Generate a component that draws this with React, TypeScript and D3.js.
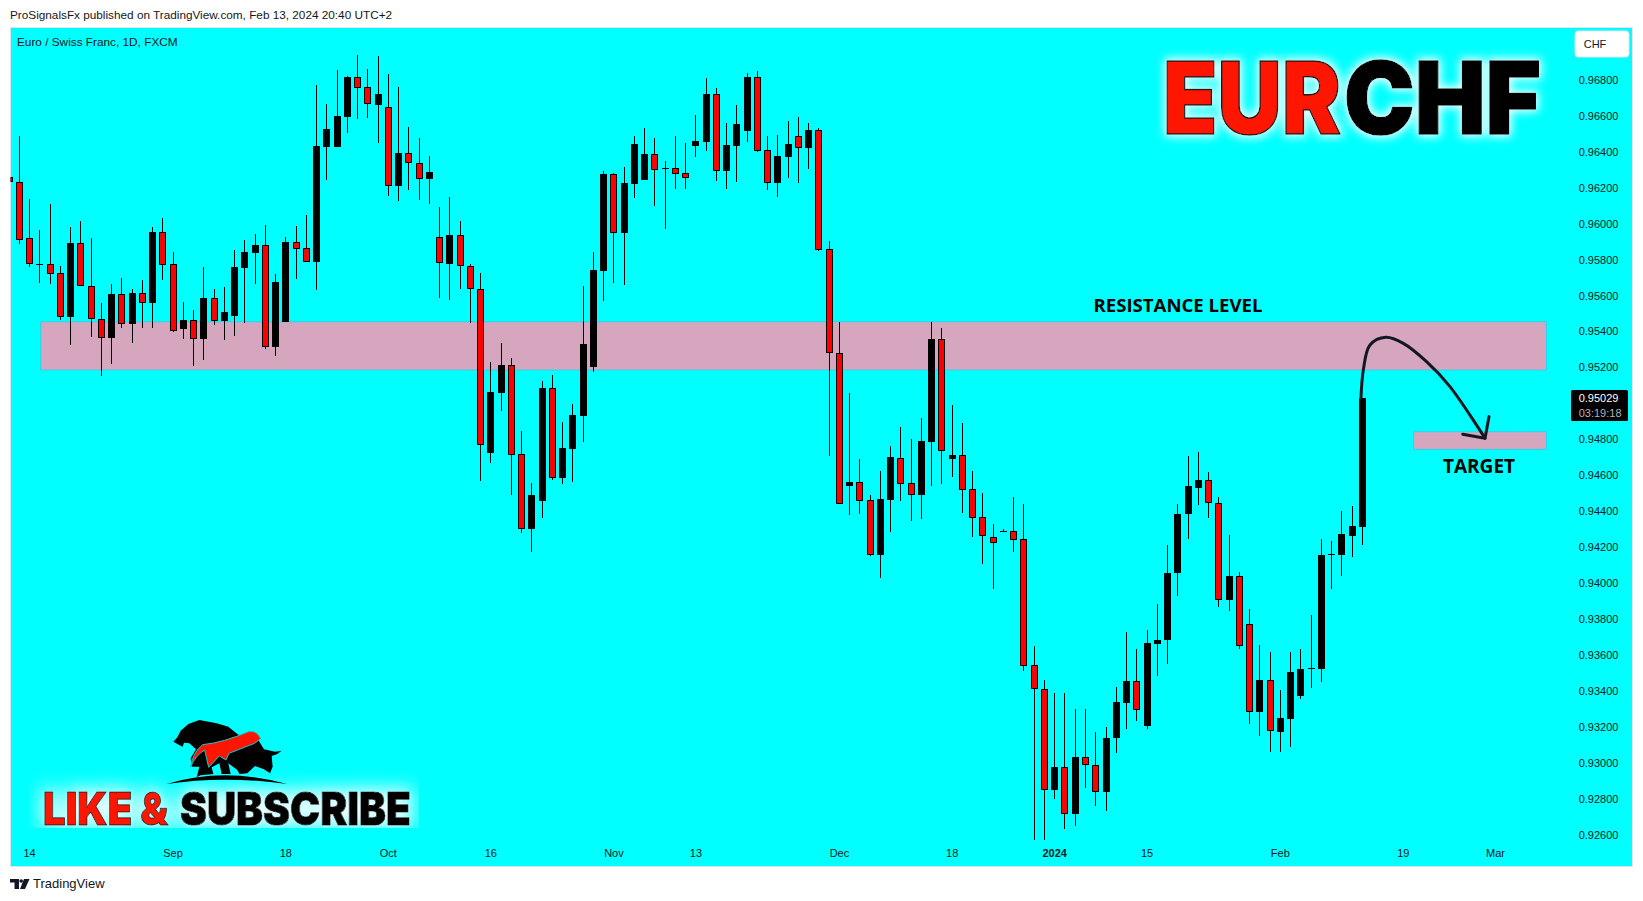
import * as d3 from "d3";

const width = 1643;
const height = 901;

// prices are in 1e-5 CHF, first entry is the bar cut off by the left edge
const opens = [
  96259, 96231, 95916, 95771, 95771, 95721, 95480, 95888, 95649, 95470,
  95363, 95604, 95441, 95610, 95558, 95949, 95771, 95413, 95459, 95357,
  95582, 95457, 95485, 95752, 95836, 95877, 95313, 95452, 95893, 95860,
  95786, 96426, 96426, 96593, 96812, 96756, 96660, 96645, 96209, 96389,
  96333, 96248, 95921, 95775, 95932, 95760, 95632, 94723, 95057, 95209,
  94714, 94300, 94456, 95081, 94584, 94745, 94929, 95202, 95736, 96272,
  95947, 96220, 96242, 96383, 96305, 96305, 96278, 96432, 96454, 96717,
  96292, 96432, 96515, 96812, 96406, 96226, 96370, 96484, 96420, 96517,
  95855, 95280, 94540, 94558, 94458, 94156, 94462, 94692, 94552, 94489,
  94784, 95354, 94690, 94708, 94519, 94363, 94257, 94285, 94285, 94241,
  93541, 93406, 92846, 92976, 92711, 93032, 92986, 92834, 93136, 93332,
  93452, 93204, 93661, 93679, 94053, 94384, 94529, 94570, 94442, 93906,
  94036, 93768, 93282, 93457, 93171, 93243, 93371, 93524, 93522, 94152,
  94154, 94262, 94312,
];
const highs = [
  96259, 96485, 96133, 95962, 96110, 95765, 95977, 96012, 95918, 95556,
  95662, 95695, 95632, 95684, 95977, 96029, 95838, 95561, 95517, 95756,
  95632, 95645, 95851, 95906, 95940, 95990, 95717, 95921, 95984, 96046,
  96769, 96663, 96852, 96819, 96936, 96858, 96930, 96830, 96756, 96535,
  96472, 96374, 96090, 96146, 96012, 95773, 95721, 95226, 95332, 95248,
  94842, 94552, 95122, 95154, 94892, 94992, 95651, 95840, 96289, 96280,
  96313, 96485, 96530, 96474, 96344, 96485, 96446, 96602, 96808, 96753,
  96556, 96658, 96836, 96847, 96485, 96491, 96569, 96591, 96556, 96528,
  95901, 95450, 95055, 94686, 94488, 94621, 94760, 94864, 94799, 94914,
  95450, 95417, 94988, 94886, 94621, 94497, 94326, 94299, 94476, 94438,
  93649, 93460, 93386, 93386, 93296, 93296, 93168, 93196, 93420, 93727,
  93631, 93739, 93879, 94209, 94436, 94706, 94726, 94616, 94475, 94264,
  94058, 93852, 93653, 93613, 93403, 93613, 93629, 93819, 94241, 94230,
  94397, 94425, 95029,
];
const lows = [
  96231, 95884, 95758, 95669, 95662, 95461, 95322, 95649, 95368, 95150,
  95216, 95417, 95335, 95417, 95417, 95684, 95394, 95355, 95205, 95239,
  95433, 95350, 95372, 95446, 95662, 95302, 95261, 95452, 95689, 95786,
  95630, 96240, 96426, 96504, 96582, 96585, 96448, 96153, 96123, 96185,
  96129, 96109, 95585, 95574, 95634, 95446, 94565, 94668, 94955, 94488,
  94276, 94172, 94361, 94571, 94551, 94560, 94784, 95174, 95569, 95669,
  95656, 96140, 96242, 96096, 95968, 96190, 96190, 96369, 96402, 96235,
  96190, 96229, 96452, 96396, 96185, 96146, 96252, 96224, 96302, 95845,
  94705, 94439, 94376, 94382, 94148, 94025, 94282, 94454, 94343, 94354,
  94538, 94549, 94588, 94387, 94254, 94104, 93965, 94281, 94169, 93506,
  92567, 92567, 92794, 92627, 92645, 92860, 92756, 92728, 93050, 93186,
  93230, 93186, 93482, 93549, 93925, 94245, 94434, 94362, 93865, 93844,
  93633, 93216, 93149, 93060, 93060, 93088, 93353, 93416, 93449, 93967,
  94039, 94145, 94210,
];
const closes = [
  96231, 95905, 95771, 95771, 95719, 95480, 95888, 95649, 95469, 95363,
  95606, 95441, 95610, 95558, 95949, 95769, 95402, 95459, 95357, 95582,
  95457, 95509, 95754, 95838, 95877, 95313, 95671, 95893, 95858, 95786,
  96430, 96522, 96595, 96812, 96754, 96661, 96717, 96209, 96389, 96333,
  96248, 96283, 95777, 95932, 95760, 95632, 94768, 95059, 95209, 94712,
  94300, 94486, 95081, 94584, 94747, 94931, 95328, 95740, 96272, 95947,
  96222, 96439, 96383, 96298, 96305, 96276, 96250, 96456, 96717, 96292,
  96433, 96550, 96812, 96404, 96226, 96372, 96439, 96420, 96517, 95853,
  95280, 94439, 94558, 94456, 94156, 94463, 94697, 94551, 94489, 94786,
  95354, 94734, 94708, 94517, 94361, 94261, 94221, 94285, 94239, 93539,
  93408, 92846, 92976, 92711, 93032, 92986, 92834, 93138, 93334, 93452,
  93290, 93663, 93681, 94055, 94384, 94536, 94570, 94442, 93906, 94036,
  93650, 93282, 93457, 93173, 93245, 93501, 93518, 93524, 94152, 94158,
  94269, 94314, 95029,
];

// 0.95000 sits under the last price tag, so it is left out
const priceTicks = d3.range(92600, 96801, 200).filter((p) => p !== 95000);
const timeLabels = ["14", "Sep", "18", "Oct", "16", "Nov", "13", "Dec", "18", "2024", "15", "Feb", "19", "Mar"];
const timeBars = [1, 15, 26, 36, 46, 58, 66, 80, 91, 101, 110, 123, 135, 144];

// drawn zones, [first bar, last bar, upper price, lower price]
const resistanceZone = [2.09, 148.95, 95452, 95183];
const targetZone = [136, 148.95, 94840, 94742];
const arrowBars = [130.87, 131.1, 131.75, 133.3, 135, 137.27, 139.55, 142.97];
const arrowPrices = [95026, 95184, 95323, 95366, 95332, 95230, 95091, 94804];
const arrowHeadBars = [143.36, 142.97, 140.8];
const arrowHeadPrices = [94924, 94804, 94826];

const lastPrice = 95029;

const font = "'Liberation Sans', Arial, sans-serif";
const ink = "#131722";

const x = d3.scaleLinear([0, 131], [19.3, 1362.3]);
const y = d3.scaleLinear([96800, 93000], [79.5, 762.4]);

const crisp = (v: number) => Math.floor(v) + 0.5;

function Candles() {
  return (
    <g shapeRendering="crispEdges">
      {opens.map((o, k) => {
        const c = closes[k];
        const cx = crisp(x(k - 1));
        const top = Math.round(y(Math.max(o, c)));
        const bottom = Math.round(y(Math.min(o, c)));
        const h = Math.max(bottom - top, 1);
        return (
          <g key={k}>
            <line x1={cx} x2={cx} y1={Math.round(y(highs[k]))} y2={Math.round(y(lows[k]))} stroke="#000" />
            <rect x={cx - 3.5} y={top} width={7} height={h} fill="#000" />
            {c < o && h > 2 && <rect x={cx - 2.5} y={top + 1} width={5} height={h - 2} fill="#ff0000" />}
          </g>
        );
      })}
    </g>
  );
}

function Zone({ zone }: { zone: number[] }) {
  const [a, b, hi, lo] = zone;
  return (
    <rect
      x={x(a)}
      y={y(hi)}
      width={x(b) - x(a)}
      height={y(lo) - y(hi)}
      fill="#d5a6bd"
      stroke="#2fd0ee"
      strokeWidth={1}
    />
  );
}

function Arrow() {
  const curve = d3
    .line<number>((d) => x(d), (_, i) => y(arrowPrices[i]))
    .curve(d3.curveCatmullRom);
  const head = d3.line<number>((d) => x(d), (_, i) => y(arrowHeadPrices[i]));
  return (
    <g fill="none" stroke="#131722" strokeWidth={3} strokeLinecap="round" strokeLinejoin="round">
      <path d={curve(arrowBars)!} />
      <path d={head(arrowHeadBars)!} />
    </g>
  );
}

function BullBear() {
  // logo, traced by hand
  return (
    <g transform="translate(160,710) scale(0.3333)">
      <path
        fill="#000"
        d="M40 95 L52 82 L62 62 L85 42 L118 30 L170 40 L205 50 L235 74 L290 82 L312 118 L345 125 L365 122 L352 132 L335 138 L338 170 L330 190 L312 178 L285 168 L262 190 L238 192 L232 180 L205 160 L212 192 L185 192 L178 160 L155 172 L160 192 L122 196 L110 202 L118 170 L95 170 L92 145 L108 118 L88 100 L72 98 L68 110 L52 102 Z"
      />
      <path
        fill="#ff1500"
        stroke="#19c6d0"
        strokeWidth={3}
        d="M92 170 Q98 128 128 104 Q190 98 268 64 Q292 62 302 86 L284 100 L207 130 L198 150 L178 138 L146 172 L134 120 Q108 135 92 170 Z"
      />
      <path fill="#000" d="M20 222 Q190 170 382 222 Q190 196 20 222 Z" />
    </g>
  );
}

export default function App() {
  return (
    <svg
      width={width}
      height={height}
      style={{ position: "absolute", left: 0, top: 0, background: "#fff" }}
      fontFamily={font}
    >
      <defs>
        <clipPath id="pane">
          <rect x={10.5} y={27.5} width={1622} height={839} />
        </clipPath>
        <clipPath id="subscribeBox">
          <rect x={29} y={760} width={390} height={68} />
        </clipPath>
        <filter id="glow" x="-15%" y="-40%" width="130%" height="180%">
          <feMorphology in="SourceAlpha" operator="dilate" radius={2} result="fat" />
          <feGaussianBlur in="fat" stdDeviation={5} result="soft" />
          <feFlood floodColor="#ffffff" floodOpacity={0.95} />
          <feComposite in2="soft" operator="in" result="halo" />
          <feMerge>
            <feMergeNode in="halo" />
            <feMergeNode in="SourceGraphic" />
          </feMerge>
        </filter>
        <filter id="glowWide" x="-10%" y="-60%" width="120%" height="220%">
          <feMorphology in="SourceAlpha" operator="dilate" radius={3} result="fat" />
          <feGaussianBlur in="fat" stdDeviation={9} result="soft" />
          <feFlood floodColor="#ffffff" floodOpacity={0.9} />
          <feComposite in2="soft" operator="in" result="halo" />
          <feMerge>
            <feMergeNode in="halo" />
            <feMergeNode in="SourceGraphic" />
          </feMerge>
        </filter>
      </defs>

      <text x={10} y={19} fontSize={11.77} fill={ink}>
        ProSignalsFx published on TradingView.com, Feb 13, 2024 20:40 UTC+2
      </text>

      <rect x={10.5} y={27.5} width={1622} height={839} fill="#00ffff" stroke="#e0e3eb" />

      <g clipPath="url(#pane)">
        <Zone zone={resistanceZone} />
        <Zone zone={targetZone} />
        <Candles />
        <Arrow />
      </g>

      <text x={17} y={46} fontSize={11.8} fill={ink}>
        Euro / Swiss Franc, 1D, FXCM
      </text>

      <text x={1178} y={311.5} textAnchor="middle" fontSize={18.6} fontWeight={700} fontFamily="'Open Sans'" fill="#000">
        RESISTANCE LEVEL
      </text>
      <text x={1479} y={472.5} textAnchor="middle" fontSize={19} fontWeight={700} fontFamily="'Open Sans'" fill="#000">
        TARGET
      </text>

      <g filter="url(#glow)" fontFamily="Inter" fontWeight={900} fontSize={100} strokeLinejoin="round">
        <text transform="translate(1163,134) scale(0.89,1)" fill="#ff1500" stroke="#1a1a1a" strokeWidth={1.5}>
          EUR
        </text>
        <text transform="translate(1344,134) scale(0.945,1)" fill="#000" stroke="#000" strokeWidth={1.5}>
          CHF
        </text>
      </g>

      <g clipPath="url(#subscribeBox)">
        <g filter="url(#glowWide)" fontFamily="Inter" fontWeight={900} fontSize={46} strokeLinejoin="round">
          <text x={43} y={825} textLength={125} lengthAdjust="spacingAndGlyphs" fill="#ff1500" stroke="#1a1a1a" strokeWidth={1}>
            LIKE &amp;
          </text>
          <text x={180} y={825} textLength={230.7} lengthAdjust="spacingAndGlyphs" fill="#000" stroke="#000" strokeWidth={1}>
            SUBSCRIBE
          </text>
        </g>
      </g>
      <BullBear />

      {priceTicks.map((p) => (
        <text key={p} x={1578.7} y={y(p)} dy="0.4em" fontSize={11} fill={ink}>
          {(p / 100000).toFixed(5)}
        </text>
      ))}

      {timeLabels.map((t, i) => (
        <text
          key={i}
          x={x(timeBars[i])}
          y={857}
          textAnchor="middle"
          fontSize={11}
          fontWeight={t === "2024" ? 700 : 400}
          fill={ink}
        >
          {t}
        </text>
      ))}

      <rect x={1575} y={31} width={54} height={26} rx={3} fill="#fff" stroke="#e0e3eb" />
      <text x={1583.7} y={48} fontSize={11} fill={ink}>
        CHF
      </text>

      <rect x={1571} y={390} width={57} height={31} rx={1.5} fill="#000" />
      <text x={1578.7} y={y(lastPrice)} dy="0.35em" fontSize={11} fill="#fff">
        {(lastPrice / 100000).toFixed(5)}
      </text>
      <text x={1578.7} y={417} fontSize={11} fill="#b2b5be">
        03:19:18
      </text>

      <g fill={ink}>
        <path d="M10 879 H19 V889 H14.5 V882.5 H10 Z" />
        <circle cx={21.2} cy={881} r={1.8} />
        <path d="M24 879 H29.5 L25 889 H20 Z" />
        <text x={33} y={888} fontSize={13}>
          TradingView
        </text>
      </g>
    </svg>
  );
}
